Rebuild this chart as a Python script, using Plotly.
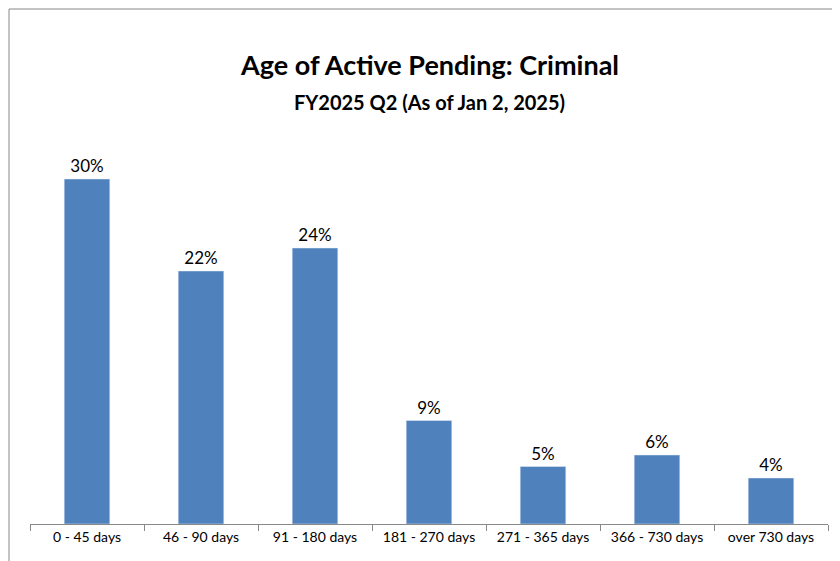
import plotly.graph_objects as go

categories = ["0 - 45 days", "46 - 90 days", "91 - 180 days", "181 - 270 days",
              "271 - 365 days", "366 - 730 days", "over 730 days"]
values = [0.30, 0.22, 0.24, 0.09, 0.05, 0.06, 0.04]

ph = 561 - 56 - 45
pw = 840 - 22 - 20

fig = go.Figure(go.Bar(
    x=categories, y=values, marker_color="#4F81BD", width=0.4,
    text=[f"{v:.0%}" for v in values], textposition="outside",
    textfont=dict(size=17, color="#000"), cliponaxis=False,
))
fig.update_layout(
    width=840, height=561, paper_bgcolor="white", plot_bgcolor="white",
    margin=dict(l=22, r=20, t=56, b=45, autoexpand=False), showlegend=False,
    font=dict(family="Lato, Open Sans, sans-serif", color="#000"),
    annotations=[
        dict(text="<b>Age of Active Pending: Criminal</b>", x=0.5, y=(561 - 45 - 38) / ph,
             xref="paper", yref="paper", showarrow=False, font=dict(size=27)),
        dict(text="<b>FY2025 Q2 (As of Jan 2, 2025)</b>", x=0.5, y=(561 - 45 - 80) / ph,
             xref="paper", yref="paper", showarrow=False, font=dict(size=20)),
    ],
    shapes=[dict(type="rect", xref="paper", yref="paper",
                 x0=-21/pw, x1=1 + 19/pw, y0=-44/ph, y1=1 + 55/ph,
                 line=dict(color="#888", width=1))],
)
fig.update_yaxes(range=[0, 0.4], visible=False)
fig.update_xaxes(showline=True, linecolor="#888", ticks="outside", tickcolor="#888",
                 ticklen=6, tickson="boundaries", tickfont=dict(size=14, color="#000"))
fig.write_html("out.html")
